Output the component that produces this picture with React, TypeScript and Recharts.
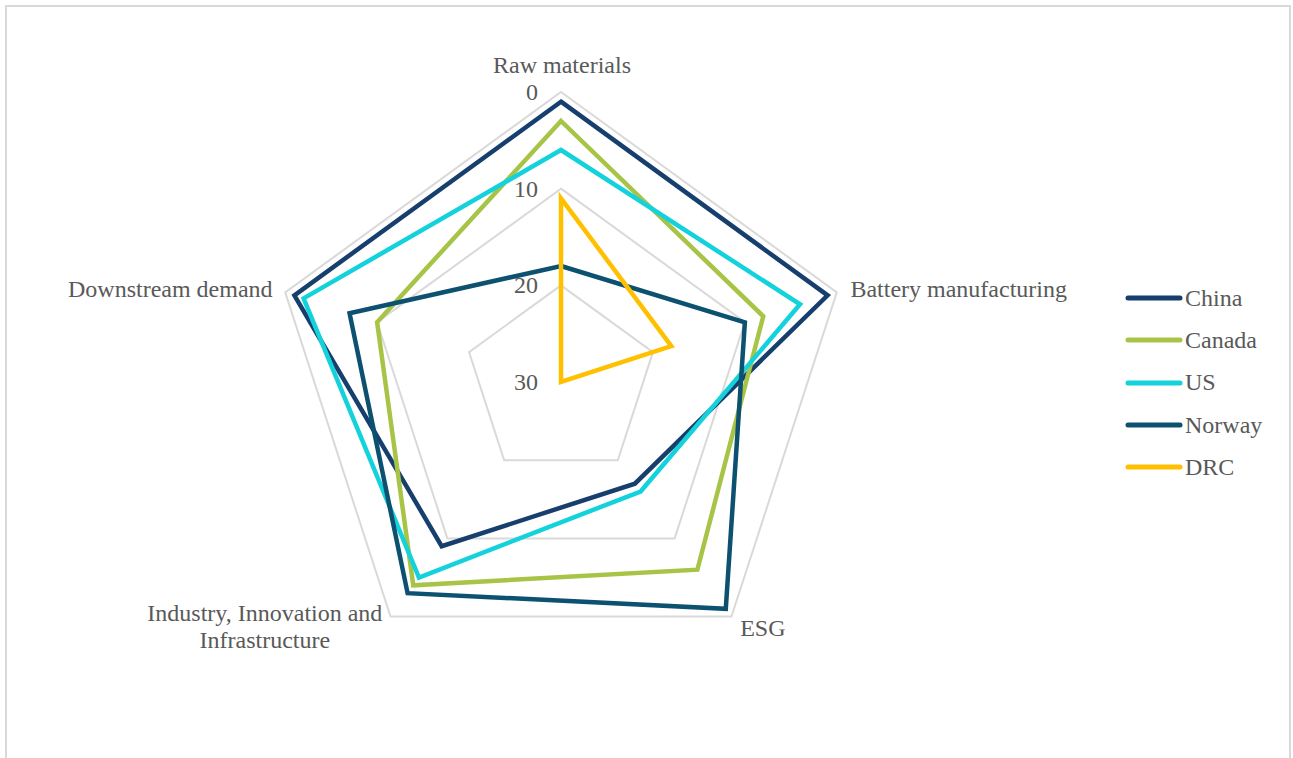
import React from "react";
import { RadarChart, Radar, PolarGrid, PolarAngleAxis, PolarRadiusAxis, Legend } from "recharts";

// Pillar ranking (0 = best, 30 = worst), axis drawn inverted so the best rank sits on the rim
const pillars = ["Raw materials", "Battery manufacturing", "ESG", "Industry, Innovation and Infrastructure", "Downstream demand"];
const china = [1, 1, 17, 9, 1];
const canada = [3, 8, 6, 4, 10];
const us = [6, 4, 16, 5, 2];
const norway = [18, 10, 1, 3, 7];
const drc = [11, 18, 30, 30, 30];
const rankTicks = [0, 10, 20, 30];

const series = [
    { key: "China", values: china, color: "#173f6e" },
    { key: "Canada", values: canada, color: "#a8c446" },
    { key: "US", values: us, color: "#13d2dc" },
    { key: "Norway", values: norway, color: "#0c5170" },
    { key: "DRC", values: drc, color: "#ffc000" },
];

const data = pillars.map((pillar, i) => {
    const row: Record<string, string | number> = { pillar };
    series.forEach((s) => (row[s.key] = s.values[i]));
    return row;
});

const FONT = "'Liberation Serif', 'Times New Roman', serif";
const TEXT = "#595959";

// label placement around each vertex: [dx, dy, anchor]
const labelOffsets: [number, number, "start" | "middle" | "end"][] = [
    [1, -11, "middle"],
    [6, 7, "start"],
    [4, 13, "start"],
    [-121, -2, "middle"],
    [-5, 7, "end"],
];

const AngleTick = (props: any) => {
    const { x, y, payload, index } = props;
    const [dx, dy, anchor] = labelOffsets[index] ?? [0, 0, "middle"];
    const label: string = payload.value;
    const lines = label === "Industry, Innovation and Infrastructure" ? ["Industry, Innovation and", "Infrastructure"] : [label];
    return (
        <text x={x + dx} y={y + dy} textAnchor={anchor} fill={TEXT} fontSize={24} fontFamily={FONT}>
            {lines.map((l, i) => (
                <tspan key={i} x={x + dx} dy={i === 0 ? 0 : 27}>
                    {l}
                </tspan>
            ))}
        </text>
    );
};

const RankTick = (props: any) => {
    const { x, y, payload } = props;
    return (
        <text x={x - 23} y={y + 8} textAnchor="end" fill={TEXT} fontSize={24} fontFamily={FONT}>
            {payload.value}
        </text>
    );
};

const LegendContent = () => (
    <div style={{ fontFamily: FONT, fontSize: 24, color: TEXT }}>
        {series.map((s) => (
            <div key={s.key} style={{ display: "flex", alignItems: "center", height: 42.3 }}>
                <svg width={58} height={8}>
                    <line x1={3} y1={4} x2={55} y2={4} stroke={s.color} strokeWidth={5} strokeLinecap="round" />
                </svg>
                <span style={{ marginLeft: 2 }}>{s.key}</span>
            </div>
        ))}
    </div>
);

export default function App() {
    return (
        <div style={{ padding: "5px 0 0 5px" }}>
            <style>{"body{margin:0}"}</style>
            <div style={{ width: 1286, height: 790, border: "2px solid #d9d9d9", boxSizing: "border-box", background: "#fff" }}>
                <RadarChart width={1282} height={760} data={data} cx={554} cy={375} outerRadius={290} margin={{ top: 0, right: 0, bottom: 0, left: 0 }}>
                    <PolarGrid gridType="polygon" radialLines={false} stroke="#d9d9d9" strokeWidth={2} />
                    <PolarAngleAxis dataKey="pillar" tick={<AngleTick />} tickLine={false} axisLine={false} />
                    <PolarRadiusAxis angle={90} domain={[0, 30]} ticks={rankTicks} reversed axisLine={false} tickLine={false} tick={<RankTick />} />
                    {series.map((s) => (
                        <Radar
                            key={s.key}
                            name={s.key}
                            dataKey={s.key}
                            stroke={s.color}
                            strokeWidth={4.5}
                            fill="none"
                            fillOpacity={0}
                            dot={false}
                            isAnimationActive={false}
                        />
                    ))}
                    <Legend content={<LegendContent />} wrapperStyle={{ left: 1118, top: 270, width: 170 }} />
                </RadarChart>
            </div>
        </div>
    );
}
